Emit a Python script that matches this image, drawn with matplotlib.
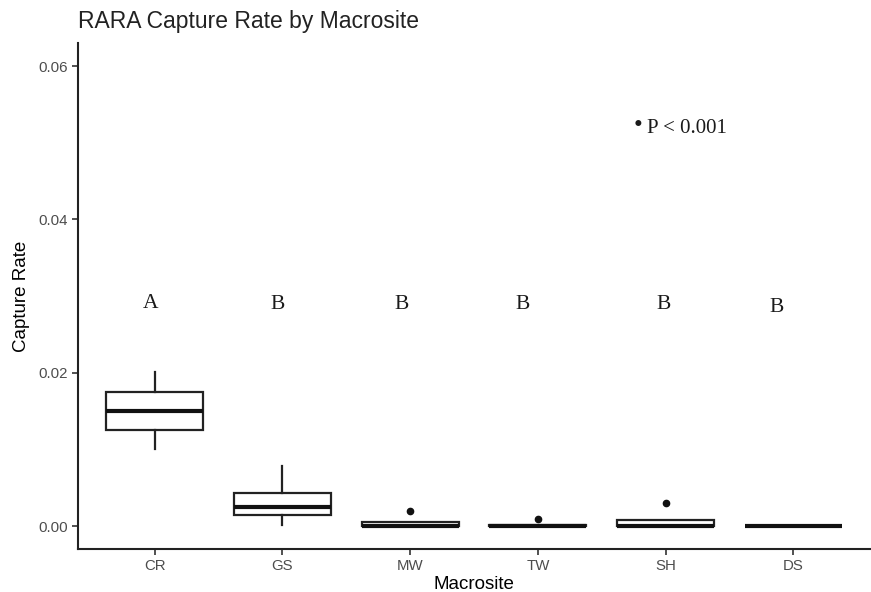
import matplotlib
matplotlib.use("Agg")
import matplotlib.pyplot as plt

# values
sites = ["CR", "GS", "MW", "TW", "SH", "DS"]
whislo = [0.0100, 0.0001, 0.0, 0.0, 0.0, 0.0]
q1 = [0.0125, 0.00148, 0.0, 0.0, 0.0, 0.0]
med = [0.0150, 0.00252, 0.0, 0.0, 0.0, 0.0]
q3 = [0.01745, 0.00427, 0.00056, 0.0001, 0.00078, 0.0]
whishi = [0.0201, 0.0078, 0.00056, 0.0001, 0.00078, 0.0]
outliers = [[], [], [0.0020], [0.00087], [0.00296], []]

letters = ["A", "B", "B", "B", "B", "B"]
letter_x = [0.97, 1.96, 2.93, 3.88, 4.98, 5.87]
letter_y = [0.0291, 0.0289, 0.0289, 0.0289, 0.0289, 0.0285]

fig = plt.figure(figsize=(8.71, 5.92), dpi=100)
ax = fig.add_axes([0.0895, 0.0726, 0.9095, 0.8544])

stats = []
for i, s in enumerate(sites):
    stats.append(dict(label=s, whislo=whislo[i], q1=q1[i], med=med[i],
                      q3=q3[i], whishi=whishi[i], fliers=outliers[i]))

ax.bxp(stats, positions=range(1, 7), widths=0.76, showcaps=False,
       patch_artist=True,
       boxprops=dict(facecolor="white", edgecolor="#222222", linewidth=1.6),
       medianprops=dict(color="#111111", linewidth=3),
       whiskerprops=dict(color="#222222", linewidth=1.6),
       flierprops=dict(marker="o", markerfacecolor="#111111",
                       markeredgecolor="#111111", markersize=4.5))

for x, y, t in zip(letter_x, letter_y, letters):
    ax.text(x, y, t, ha="center", va="center", fontsize=15.5,
            family="Liberation Serif", color="#1a1a1a")

ax.text(4.78, 0.0522, "•", ha="center", va="center", fontsize=18,
        family="Liberation Serif", color="#1a1a1a")
ax.text(4.855, 0.0519, "P < 0.001", ha="left", va="center", fontsize=15,
        family="Liberation Serif", color="#1a1a1a")

ax.set_xlim(0.4, 6.6)
ax.set_ylim(-0.003, 0.063)
ax.set_yticks([0.0, 0.02, 0.04, 0.06])
ax.set_yticklabels(["0.00", "0.02", "0.04", "0.06"])
ax.set_xticks(range(1, 7))
ax.set_xticklabels(sites)

for side in ["top", "right"]:
    ax.spines[side].set_visible(False)
for side in ["left", "bottom"]:
    ax.spines[side].set_linewidth(1.5)
    ax.spines[side].set_color("#222222")

ax.tick_params(axis="both", length=4, width=1.2, color="#333333",
               labelcolor="#4d4d4d", labelsize=10.8)
for lab in ax.get_xticklabels() + ax.get_yticklabels():
    lab.set_family("Liberation Sans")

ax.set_xlabel("Macrosite", fontsize=13.5, family="Liberation Sans", labelpad=2)
ax.set_ylabel("Capture Rate", fontsize=13.5, family="Liberation Sans", labelpad=6)
ax.set_title("RARA Capture Rate by Macrosite", fontsize=16.5, loc="left",
             family="Liberation Sans", color="#222222", pad=11)
ax.title.set_position((-0.001, 1.0))

fig.savefig("out.png", dpi=100)
